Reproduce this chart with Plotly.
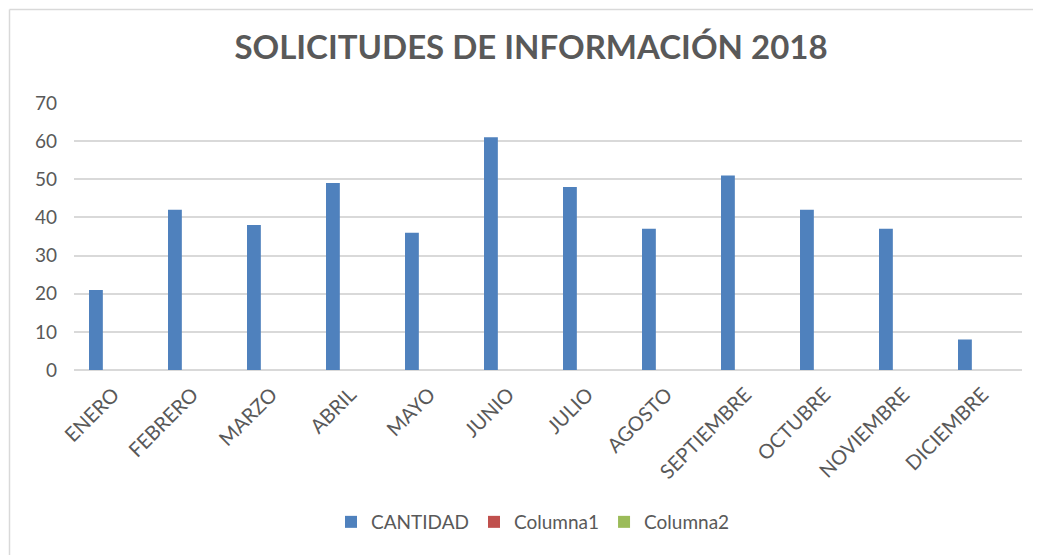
import plotly.graph_objects as go

meses = ["ENERO", "FEBRERO", "MARZO", "ABRIL", "MAYO", "JUNIO", "JULIO",
         "AGOSTO", "SEPTIEMBRE", "OCTUBRE", "NOVIEMBRE", "DICIEMBRE"]
cantidad = [21, 42, 38, 49, 36, 61, 48, 37, 51, 42, 37, 8]
columna1 = [None] * 12
columna2 = [None] * 12

# page body has an 8px margin; figure coordinates = screen coordinates - 8
OFF = 8
W, H = 1041 - OFF, 555 - OFF
L, R, T, B = 74 - OFF, 19, 103 - OFF, 185
pw, ph = W - L - R, H - T - B

def px(x):
    return (x - OFF - L) / pw

def py(y):
    return (H - B - (y - OFF)) / ph

FONT = "Lato"
GRAY = "#595959"

fig = go.Figure()
fig.add_trace(go.Bar(x=meses, y=cantidad, name="CANTIDAD", marker_color="#4f81bd",
                     marker_line_width=0, width=0.175, offset=-0.31))
fig.add_trace(go.Bar(x=meses, y=columna1, name="Columna1", marker_color="#c0504d",
                     marker_line_width=0))
fig.add_trace(go.Bar(x=meses, y=columna2, name="Columna2", marker_color="#9bbb59",
                     marker_line_width=0))

fig.update_layout(
    width=W, height=H,
    margin=dict(l=L, r=R, t=T, b=B, autoexpand=False),
    paper_bgcolor="white", plot_bgcolor="white",
    barmode="group",
    font=dict(family=FONT, color=GRAY, size=18),
    title=dict(text="<b>SOLICITUDES DE INFORMACIÓN 2018</b>",
               x=px(531), xref="paper", xanchor="center",
               y=1 - (47 - OFF) / H, yref="container", yanchor="middle",
               font=dict(family=FONT, size=33, color=GRAY)),
    xaxis=dict(tickangle=-45, showgrid=False, showline=False, ticks="",
               ticklabelstandoff=8,
               tickfont=dict(size=20, color=GRAY), automargin=False),
    yaxis=dict(range=[0, 70], dtick=10, showgrid=True, gridcolor="#d9d9d9",
               gridwidth=1.5, zeroline=True, zerolinecolor="#d9d9d9", zerolinewidth=1.5,
               showline=False, ticks="", ticklabelstandoff=16,
               tickfont=dict(size=19, color=GRAY), automargin=False),
    legend=dict(orientation="h", x=px(533), xanchor="center", y=py(522), yanchor="middle",
                font=dict(size=19, color=GRAY), itemwidth=30, traceorder="normal"),
    showlegend=True,
)

# chart area border (top and left edges visible)
fig.add_shape(type="line", xref="paper", yref="paper",
              x0=px(9.5), x1=px(1045), y0=py(9.5), y1=py(9.5),
              line=dict(color="#d9d9d9", width=1.5))
fig.add_shape(type="line", xref="paper", yref="paper",
              x0=px(9.5), x1=px(9.5), y0=py(9.5), y1=py(560),
              line=dict(color="#d9d9d9", width=1.5))

fig.write_html("out.html")
